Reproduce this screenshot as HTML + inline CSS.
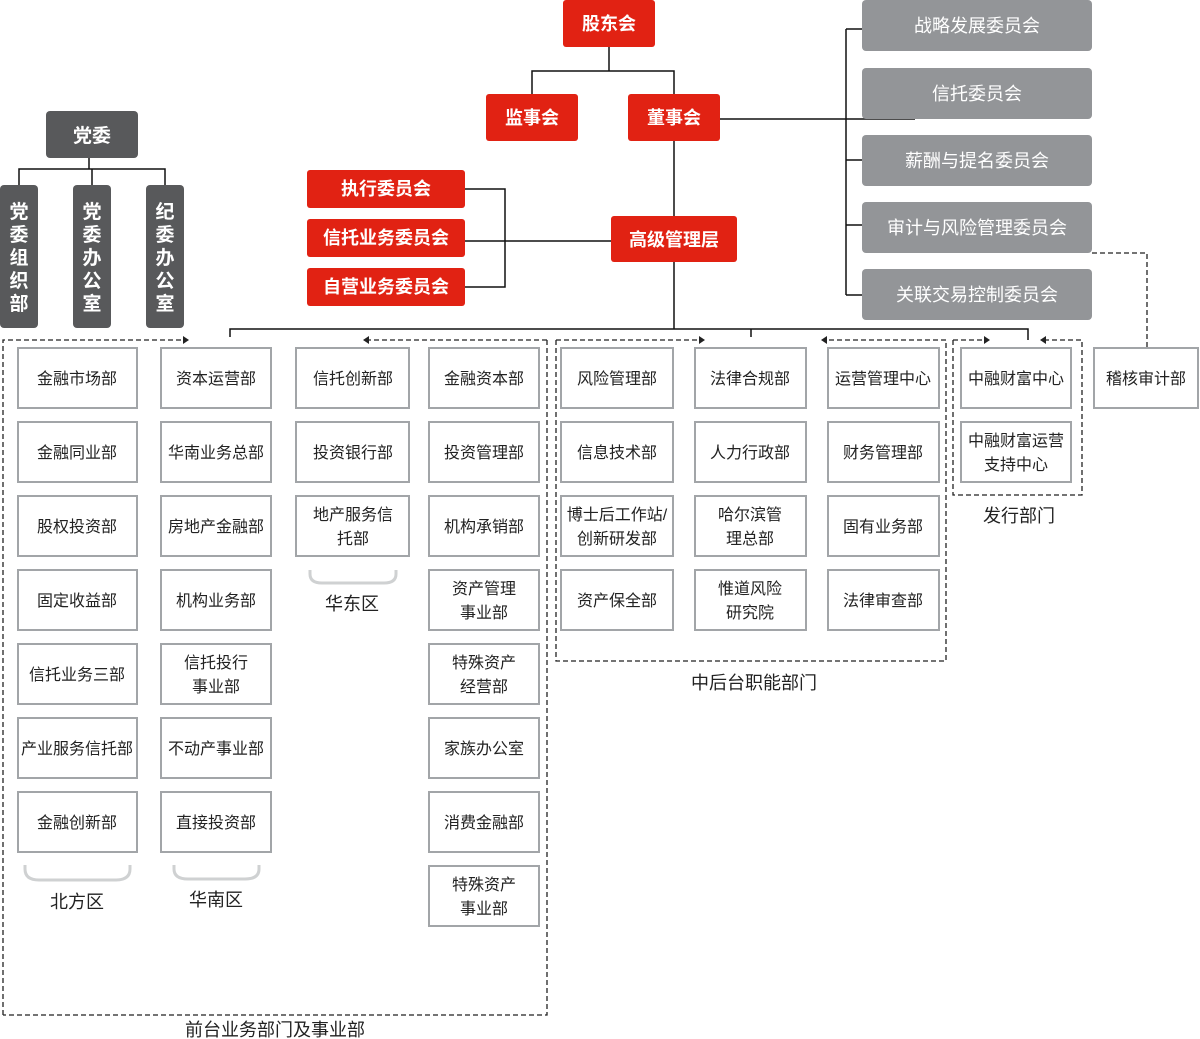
<!DOCTYPE html>
<html><head><meta charset="utf-8"><style>
html,body{margin:0;padding:0;background:#fff}
svg{display:block}
text{font-family:"Liberation Sans","Noto Sans CJK SC",sans-serif}
.d rect{fill:#fff;stroke:#a2a5a8;stroke-width:2}
.d text{font-size:16px;fill:#222;text-anchor:middle}
.r rect{fill:#e12213}
.r text{font-size:18px;fill:#fff;text-anchor:middle;font-weight:bold}
.g rect{fill:#939598}
.g text{font-size:18px;fill:#fff;text-anchor:middle}
.k rect{fill:#58595b}
.k text{font-size:19px;fill:#fff;text-anchor:middle;font-weight:bold}
.l{stroke:#111;stroke-width:1.5;fill:none}
.ds{stroke:#222;stroke-width:1.3;fill:none;stroke-dasharray:5 3}
.br{stroke:#cfd1d2;stroke-width:3;fill:none}
.lb{font-size:18px;fill:#222;text-anchor:middle}
</style></head><body>
<svg width="1200" height="1039" viewBox="0 0 1200 1039" xmlns="http://www.w3.org/2000/svg">
<!-- connectors -->
<path class="l" d="M609 47V71M532 94V71H674V94M720 119H915M846 29H862M846 29V295M846 160H862M846 225H862M846 295H862M674 141V216M611 241H465M465 189H505V287H465M674 262V329M230 337V329H1028V340M751 329V337M89 158V169M19 185V169H165V185M92 169V185"/>
<!-- dashed -->
<path class="ds" d="M3 1015V340H183M547 340H369M547 340V1015H3"/>
<path class="ds" d="M556 340V661H946V340H827M556 340H699"/>
<path class="ds" d="M953 340V495H1082V340H1046M953 340H984"/>
<path class="ds" d="M1092 253H1147V348"/>
<g fill="#222">
<path d="M189 340l-6-4v8z"/><path d="M363 340l6-4v8z"/><path d="M705 340l-6-4v8z"/><path d="M821 340l6-4v8z"/><path d="M990 340l-6-4v8z"/><path d="M1040 340l6-4v8z"/>
</g>
<!-- braces -->
<path class="br" d="M310 570v4q0 9 12 9h62q12 0 12-9v-4"/>
<path class="br" d="M25 865v4q0 11 14 11h77q14 0 14-11v-4"/>
<path class="br" d="M174 865v4q0 10 14 10h57q14 0 14-10v-4"/>
<!-- red -->
<g class="r">
<rect x="563" y="0" width="92" height="47" rx="3"/><text x="609" y="30">股东会</text>
<rect x="486" y="94" width="92" height="47" rx="3"/><text x="532" y="124">监事会</text>
<rect x="628" y="94" width="92" height="47" rx="3"/><text x="674" y="124">董事会</text>
<rect x="611" y="216" width="126" height="46" rx="3"/><text x="674" y="246">高级管理层</text>
<rect x="307" y="170" width="158" height="38" rx="3"/><text x="386" y="195">执行委员会</text>
<rect x="307" y="219" width="158" height="38" rx="3"/><text x="386" y="244">信托业务委员会</text>
<rect x="307" y="268" width="158" height="38" rx="3"/><text x="386" y="293">自营业务委员会</text>
</g>
<g class="g">
<rect x="862" y="0" width="230" height="51" rx="4"/><text x="977" y="32">战略发展委员会</text>
<rect x="862" y="68" width="230" height="51" rx="4"/><text x="977" y="100">信托委员会</text>
<rect x="862" y="135" width="230" height="51" rx="4"/><text x="977" y="167">薪酬与提名委员会</text>
<rect x="862" y="202" width="230" height="51" rx="4"/><text x="977" y="234">审计与风险管理委员会</text>
<rect x="862" y="269" width="230" height="51" rx="4"/><text x="977" y="301">关联交易控制委员会</text>
</g>
<g class="k">
<rect x="46" y="111" width="92" height="47" rx="4"/><text x="92" y="142">党委</text>
<rect x="0" y="185" width="38" height="143" rx="4"/>
<text x="19" y="218">党</text><text x="19" y="241">委</text><text x="19" y="264">组</text><text x="19" y="287">织</text><text x="19" y="310">部</text>
<rect x="73" y="185" width="38" height="143" rx="4"/>
<text x="92" y="218">党</text><text x="92" y="241">委</text><text x="92" y="264">办</text><text x="92" y="287">公</text><text x="92" y="310">室</text>
<rect x="146" y="185" width="38" height="143" rx="4"/>
<text x="165" y="218">纪</text><text x="165" y="241">委</text><text x="165" y="264">办</text><text x="165" y="287">公</text><text x="165" y="310">室</text>
</g>
<!-- departments -->
<g class="d">
<rect x="18" y="348" width="119" height="60"/><text x="77" y="384">金融市场部</text>
<rect x="18" y="422" width="119" height="60"/><text x="77" y="458">金融同业部</text>
<rect x="18" y="496" width="119" height="60"/><text x="77" y="532">股权投资部</text>
<rect x="18" y="570" width="119" height="60"/><text x="77" y="606">固定收益部</text>
<rect x="18" y="644" width="119" height="60"/><text x="77" y="680">信托业务三部</text>
<rect x="18" y="718" width="119" height="60"/><text x="77" y="754">产业服务信托部</text>
<rect x="18" y="792" width="119" height="60"/><text x="77" y="828">金融创新部</text>

<rect x="161" y="348" width="110" height="60"/><text x="216" y="384">资本运营部</text>
<rect x="161" y="422" width="110" height="60"/><text x="216" y="458">华南业务总部</text>
<rect x="161" y="496" width="110" height="60"/><text x="216" y="532">房地产金融部</text>
<rect x="161" y="570" width="110" height="60"/><text x="216" y="606">机构业务部</text>
<rect x="161" y="644" width="110" height="60"/><text x="216" y="668">信托投行</text><text x="216" y="692">事业部</text>
<rect x="161" y="718" width="110" height="60"/><text x="216" y="754">不动产事业部</text>
<rect x="161" y="792" width="110" height="60"/><text x="216" y="828">直接投资部</text>

<rect x="296" y="348" width="113" height="60"/><text x="353" y="384">信托创新部</text>
<rect x="296" y="422" width="113" height="60"/><text x="353" y="458">投资银行部</text>
<rect x="296" y="496" width="113" height="60"/><text x="353" y="520">地产服务信</text><text x="353" y="544">托部</text>

<rect x="429" y="348" width="110" height="60"/><text x="484" y="384">金融资本部</text>
<rect x="429" y="422" width="110" height="60"/><text x="484" y="458">投资管理部</text>
<rect x="429" y="496" width="110" height="60"/><text x="484" y="532">机构承销部</text>
<rect x="429" y="570" width="110" height="60"/><text x="484" y="594">资产管理</text><text x="484" y="618">事业部</text>
<rect x="429" y="644" width="110" height="60"/><text x="484" y="668">特殊资产</text><text x="484" y="692">经营部</text>
<rect x="429" y="718" width="110" height="60"/><text x="484" y="754">家族办公室</text>
<rect x="429" y="792" width="110" height="60"/><text x="484" y="828">消费金融部</text>
<rect x="429" y="866" width="110" height="60"/><text x="484" y="890">特殊资产</text><text x="484" y="914">事业部</text>

<rect x="561" y="348" width="112" height="60"/><text x="617" y="384">风险管理部</text>
<rect x="561" y="422" width="112" height="60"/><text x="617" y="458">信息技术部</text>
<rect x="561" y="496" width="112" height="60"/><text x="617" y="520">博士后工作站/</text><text x="617" y="544">创新研发部</text>
<rect x="561" y="570" width="112" height="60"/><text x="617" y="606">资产保全部</text>

<rect x="695" y="348" width="111" height="60"/><text x="750" y="384">法律合规部</text>
<rect x="695" y="422" width="111" height="60"/><text x="750" y="458">人力行政部</text>
<rect x="695" y="496" width="111" height="60"/><text x="750" y="520">哈尔滨管</text><text x="750" y="544">理总部</text>
<rect x="695" y="570" width="111" height="60"/><text x="750" y="594">惟道风险</text><text x="750" y="618">研究院</text>

<rect x="828" y="348" width="111" height="60"/><text x="883" y="384">运营管理中心</text>
<rect x="828" y="422" width="111" height="60"/><text x="883" y="458">财务管理部</text>
<rect x="828" y="496" width="111" height="60"/><text x="883" y="532">固有业务部</text>
<rect x="828" y="570" width="111" height="60"/><text x="883" y="606">法律审查部</text>

<rect x="961" y="348" width="110" height="60"/><text x="1016" y="384">中融财富中心</text>
<rect x="961" y="422" width="110" height="60"/><text x="1016" y="446">中融财富运营</text><text x="1016" y="470">支持中心</text>

<rect x="1094" y="348" width="104" height="60"/><text x="1146" y="384">稽核审计部</text>
</g>
<text class="lb" x="352" y="610">华东区</text>
<text class="lb" x="77" y="908">北方区</text>
<text class="lb" x="216" y="906">华南区</text>
<text class="lb" x="275" y="1036">前台业务部门及事业部</text>
<text class="lb" x="754" y="689">中后台职能部门</text>
<text class="lb" x="1019" y="522">发行部门</text>
</svg>
</body></html>
